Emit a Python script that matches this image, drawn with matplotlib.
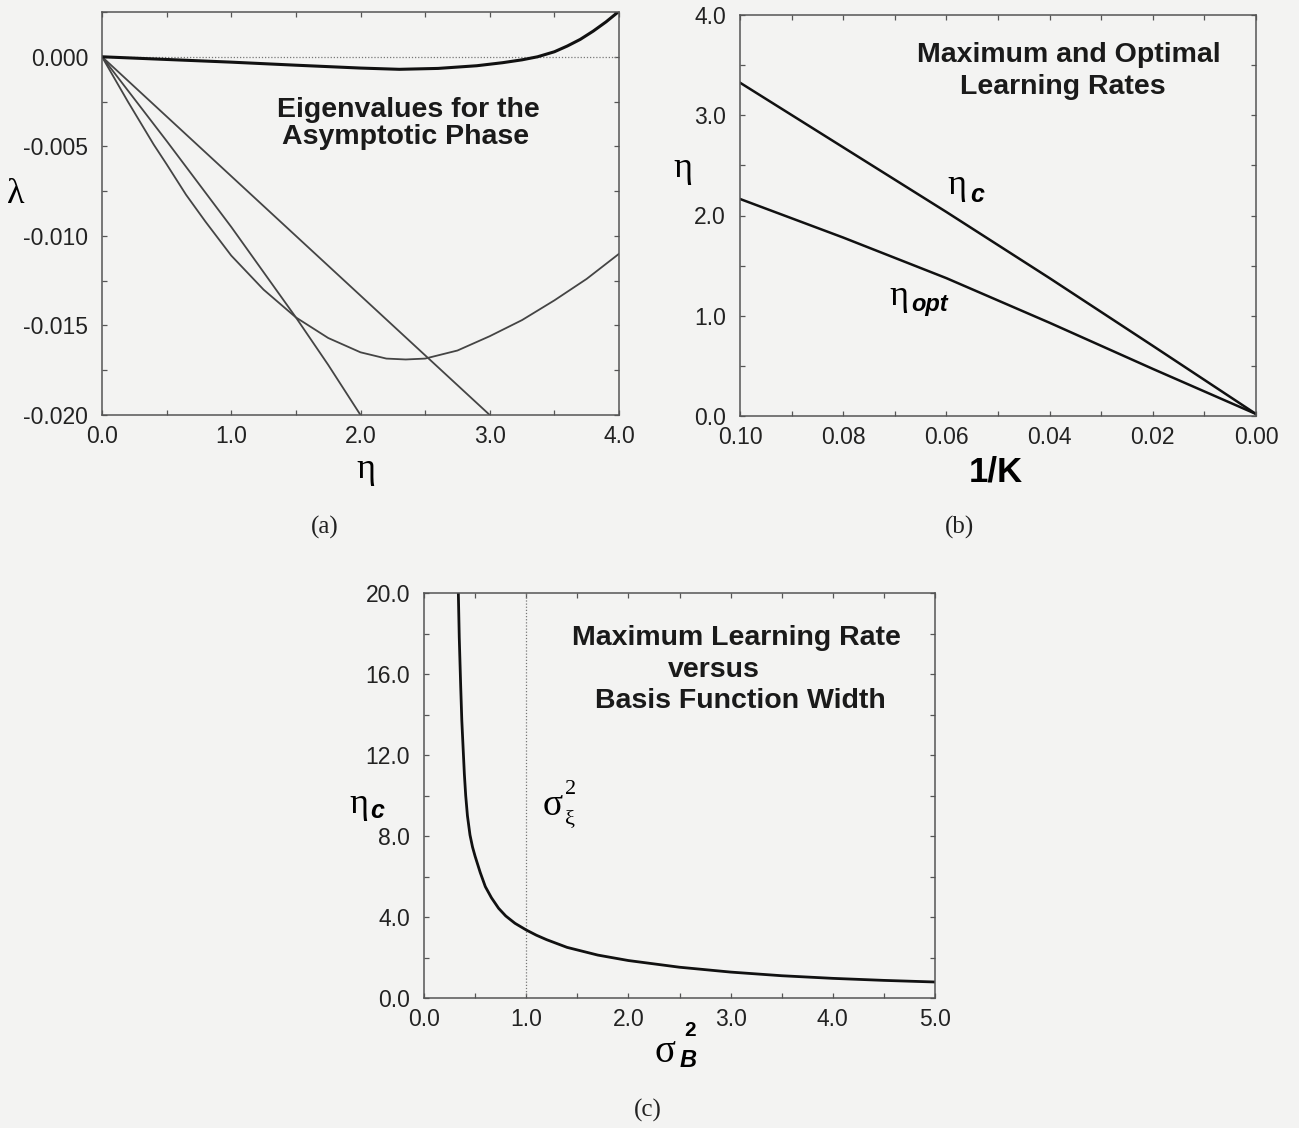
import matplotlib
matplotlib.use("Agg")
import matplotlib.pyplot as plt
from matplotlib.ticker import MultipleLocator, FormatStrFormatter

# (a) eigenvalues of the asymptotic phase vs learning rate
eta_thick = [0, 0.5, 1.0, 1.5, 2.0, 2.3, 2.6, 2.9, 3.1, 3.25, 3.37, 3.5, 3.6, 3.7, 3.8,
             3.9, 4.0]
lam_thick = [0, -0.00015, -0.0003, -0.00047, -0.00063, -0.0007, -0.00065, -0.0005,
             -0.00033, -0.00017, 0.0, 0.00028, 0.0006, 0.00097, 0.00143, 0.00195, 0.00254]
eta_u = [0, 0.1, 0.2, 0.3, 0.4, 0.5, 0.65, 0.8, 1.0, 1.25, 1.5, 1.75, 2.0, 2.2, 2.35,
         2.5, 2.75, 3.0, 3.25, 3.5, 3.75, 4.0]
lam_u = [0, -0.00125, -0.0025, -0.0037, -0.0049, -0.0060, -0.0077, -0.0092, -0.0111,
         -0.0130, -0.01455, -0.0157, -0.0165, -0.01685, -0.0169, -0.01685, -0.0164,
         -0.0156, -0.0147, -0.0136, -0.0124, -0.0110]
eta_a = [0, 0.5, 1.0, 1.5, 1.75, 2.0]
lam_a = [0, -0.0047, -0.0095, -0.01455, -0.0172, -0.0200]
eta_b = [0, 0.75, 1.5, 2.25, 3.0]
lam_b = [0, -0.0050, -0.0100, -0.0150, -0.0200]

# (b) maximum and optimal learning rates vs 1/K
inv_k = [0.10, 0.08, 0.06, 0.04, 0.02, 0.0]
eta_crit = [3.325, 2.68, 2.035, 1.375, 0.70, 0.02]
eta_opt = [2.165, 1.78, 1.375, 0.93, 0.47, 0.02]

# (c) maximum learning rate vs basis function width
sigma_b = [0.336, 0.345, 0.359, 0.37, 0.385, 0.395, 0.408, 0.425, 0.45, 0.475, 0.5,
           0.55, 0.6, 0.66, 0.73, 0.8, 0.89, 1.0, 1.1, 1.2, 1.4, 1.7, 2.0, 2.5, 3.0,
           3.5, 4.0, 4.5, 5.0]
eta_c_sig = [20.0, 17.8, 15.4, 13.7, 12.1, 11.05, 10.0, 9.0, 8.05, 7.45, 7.0, 6.2,
             5.5, 4.95, 4.43, 4.05, 3.69, 3.36, 3.1, 2.88, 2.5, 2.12, 1.85, 1.52, 1.28,
             1.1, 0.97, 0.87, 0.79]
sigma_xi = 1.0

W, H = 1299, 1128
SANS = "Liberation Sans"
SERIF = "Liberation Serif"
BG = "#f3f3f2"
plt.rcParams["axes.unicode_minus"] = False
plt.rcParams["font.family"] = SANS

fig = plt.figure(figsize=(W / 100, H / 100), dpi=100, facecolor=BG)


def box(l, t, r, b):
    return [l / W, 1 - b / H, (r - l) / W, (b - t) / H]


def ftext(x, y, s, **kw):
    fig.text(x / W, 1 - y / H, s, **kw)


def style(ax, xmaj, xmin, ymaj, ymin, xfmt, yfmt):
    ax.set_facecolor(BG)
    for sp in ax.spines.values():
        sp.set_color("#555555")
        sp.set_linewidth(1.1)
    ax.xaxis.set_major_locator(MultipleLocator(xmaj))
    ax.xaxis.set_minor_locator(MultipleLocator(xmin))
    ax.yaxis.set_major_locator(MultipleLocator(ymaj))
    ax.yaxis.set_minor_locator(MultipleLocator(ymin))
    ax.xaxis.set_major_formatter(FormatStrFormatter(xfmt))
    ax.yaxis.set_major_formatter(FormatStrFormatter(yfmt))
    ax.tick_params(which="both", direction="in", top=True, right=True,
                   length=3.5, width=0.9, color="#555555")
    ax.tick_params(axis="x", pad=7, labelsize=16.5, labelcolor="#222222")
    ax.tick_params(axis="y", pad=10, labelsize=16.5, labelcolor="#222222")


def title(x, y, s):
    ftext(x, y, s, ha="center", va="baseline", fontsize=20.5,
          fontweight="bold", color="#1a1a1a")


# panel (a)
ax1 = fig.add_axes(box(102, 12, 619, 415))
style(ax1, 1.0, 0.5, 0.005, 0.0025, "%.1f", "%.3f")
ax1.set_xlim(0, 4)
ax1.set_ylim(-0.020, 0.0025)
ax1.axhline(0, color="#777777", lw=0.9, ls=(0, (1, 1.5)))
ax1.plot(eta_u, lam_u, color="#444444", lw=1.3)
ax1.plot(eta_a, lam_a, color="#444444", lw=1.3)
ax1.plot(eta_b, lam_b, color="#444444", lw=1.3)
ax1.plot(eta_thick, lam_thick, color="#111111", lw=2.2)

title(408, 117, "Eigenvalues for the")
title(406, 144, "Asymptotic Phase")
ftext(16, 203, "λ", ha="center", va="baseline", fontsize=26, family=SERIF)
ftext(366, 478, "η", ha="center", va="baseline", fontsize=26, family=SERIF)

# panel (b)
ax2 = fig.add_axes(box(740, 15, 1256, 416))
style(ax2, 0.02, 0.01, 1.0, 0.5, "%.2f", "%.1f")
ax2.set_xlim(0.10, 0.0)
ax2.set_ylim(0, 4)
ax2.plot(inv_k, eta_crit, color="#111111", lw=1.8)
ax2.plot(inv_k, eta_opt, color="#111111", lw=1.8)

title(1069, 62, "Maximum and Optimal")
title(1063, 94, "Learning Rates")
ftext(683, 177, "η", ha="center", va="baseline", fontsize=26, family=SERIF)
ftext(996, 482, "1/K", ha="center", va="baseline", fontsize=25, fontweight="bold")
ftext(947, 194, "η", ha="left", va="baseline", fontsize=26, family=SERIF)
ftext(970, 202, "c", ha="left", va="baseline", fontsize=18,
      fontweight="bold", fontstyle="italic")
ftext(889, 305, "η", ha="left", va="baseline", fontsize=26, family=SERIF)
ftext(911, 311, "opt", ha="left", va="baseline", fontsize=17,
      fontweight="bold", fontstyle="italic")

# panel (c)
ax3 = fig.add_axes(box(424, 593, 935, 998))
style(ax3, 1.0, 0.5, 4.0, 2.0, "%.1f", "%.1f")
ax3.set_xlim(0, 5)
ax3.set_ylim(0, 20)
ax3.axvline(sigma_xi, color="#777777", lw=0.9, ls=(0, (1, 1.5)))
ax3.plot(sigma_b, eta_c_sig, color="#111111", lw=2.0)

title(736, 645, "Maximum Learning Rate")
title(714, 677, "versus")
title(740, 708, "Basis Function Width")
ftext(349, 813, "η", ha="left", va="baseline", fontsize=26, family=SERIF)
ftext(370, 818, "c", ha="left", va="baseline", fontsize=18,
      fontweight="bold", fontstyle="italic")
# sigma_xi^2 marker next to the dotted line
ftext(543, 815, "σ", ha="left", va="baseline", fontsize=27, family=SERIF)
ftext(565, 824, "ξ", ha="left", va="baseline", fontsize=16, family=SERIF)
ftext(565, 794, "2", ha="left", va="baseline", fontsize=16, family=SERIF)
ftext(655, 1062, "σ", ha="left", va="baseline", fontsize=28, family=SERIF)
ftext(680, 1067, "B", ha="left", va="baseline", fontsize=17,
      fontweight="bold", fontstyle="italic")
ftext(684, 1036, "2", ha="left", va="baseline", fontsize=15, fontweight="bold")

# captions
for x, y, s in [(325, 527, "(a)"), (960, 527, "(b)"), (648, 1110, "(c)")]:
    ftext(x, y, s, ha="center", va="center", fontsize=18, family=SERIF, color="#222222")

fig.savefig("out.png", dpi=100, facecolor=BG)
